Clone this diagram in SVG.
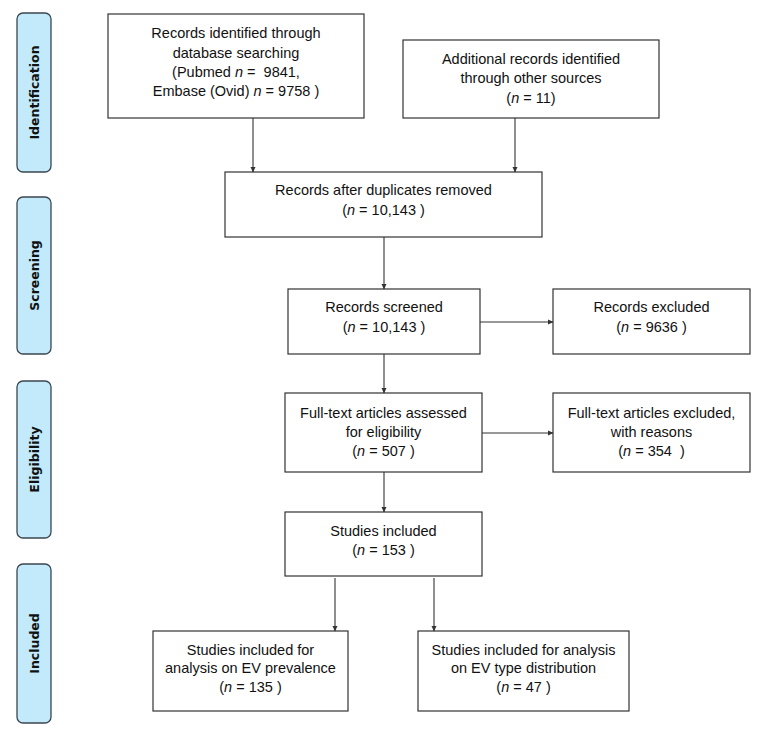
<svg xmlns="http://www.w3.org/2000/svg" width="761" height="735" viewBox="0 0 761 735">
<defs>
<style>
.box{fill:#fff;stroke:#333;stroke-width:1.2}
.side{fill:#c2eafb;stroke:#3b4650;stroke-width:1.3}
.t{font-family:"Liberation Sans",Arial,sans-serif;font-size:14.5px;fill:#111;text-anchor:middle}
.s{font-family:"DejaVu Sans",Verdana,sans-serif;font-size:12.5px;font-weight:bold;fill:#111;text-anchor:middle}
.c{stroke:#333;stroke-width:1.1;fill:none;marker-end:url(#ah)}
.i{font-style:italic}
</style>
<marker id="ah" markerWidth="6" markerHeight="6" refX="5" refY="3" orient="auto" markerUnits="userSpaceOnUse">
<path d="M0,0.5 L5.5,3 L0,5.5 Z" fill="#333"/>
</marker>
</defs>
<rect width="761" height="735" fill="#fff"/>
<g id="side-identification"><rect class="side" x="17" y="13" width="34" height="159" rx="6"/><text class="s" transform="translate(38.5,92.5) rotate(-90)">Identification</text></g>
<g id="side-screening"><rect class="side" x="17" y="197" width="34" height="157" rx="6"/><text class="s" transform="translate(38.5,275.5) rotate(-90)">Screening</text></g>
<g id="side-eligibility"><rect class="side" x="17" y="381" width="34" height="157" rx="6"/><text class="s" transform="translate(38.5,459.5) rotate(-90)">Eligibility</text></g>
<g id="side-included"><rect class="side" x="17" y="564" width="34" height="159" rx="6"/><text class="s" transform="translate(38.5,643.5) rotate(-90)">Included</text></g>

<g id="n1"><rect class="box" x="108" y="14" width="256" height="104"/>
<text class="t" x="236" y="38">Records identified through</text>
<text class="t" x="236" y="58">database searching</text>
<text class="t" x="236" y="77">(Pubmed <tspan class="i">n</tspan> = &#160;9841,</text>
<text class="t" x="236" y="96">Embase (Ovid) <tspan class="i">n</tspan> = 9758 )</text></g>

<g id="n2"><rect class="box" x="403" y="40" width="256" height="78"/>
<text class="t" x="531" y="64">Additional records identified</text>
<text class="t" x="531" y="83">through other sources</text>
<text class="t" x="531" y="103">(<tspan class="i">n</tspan> = 11)</text></g>

<g id="n3"><rect class="box" x="225" y="172" width="317" height="65"/>
<text class="t" x="383.5" y="195">Records after duplicates removed</text>
<text class="t" x="383.5" y="215">(<tspan class="i">n</tspan> = 10,143 )</text></g>

<g id="n4"><rect class="box" x="288" y="289" width="192" height="65"/>
<text class="t" x="384" y="312">Records screened</text>
<text class="t" x="384" y="332">(<tspan class="i">n</tspan> = 10,143 )</text></g>

<g id="n5"><rect class="box" x="553" y="289" width="197" height="65"/>
<text class="t" x="651.5" y="312">Records excluded</text>
<text class="t" x="651.5" y="332">(<tspan class="i">n</tspan> = 9636 )</text></g>

<g id="n6"><rect class="box" x="285" y="393" width="197" height="79"/>
<text class="t" x="383.5" y="418">Full-text articles assessed</text>
<text class="t" x="383.5" y="437">for eligibility</text>
<text class="t" x="383.5" y="456">(<tspan class="i">n</tspan> = 507 )</text></g>

<g id="n7"><rect class="box" x="553" y="393" width="197" height="79"/>
<text class="t" x="651.5" y="418">Full-text articles excluded,</text>
<text class="t" x="651.5" y="437">with reasons</text>
<text class="t" x="651.5" y="456">(<tspan class="i">n</tspan> = 354 &#160;)</text></g>

<g id="n8"><rect class="box" x="285" y="512" width="197" height="64"/>
<text class="t" x="383.5" y="536">Studies included</text>
<text class="t" x="383.5" y="555">(<tspan class="i">n</tspan> = 153 )</text></g>

<g id="n9"><rect class="box" x="153" y="631" width="195" height="80"/>
<text class="t" x="250.5" y="655">Studies included for</text>
<text class="t" x="250.5" y="673">analysis on EV prevalence</text>
<text class="t" x="250.5" y="692">(<tspan class="i">n</tspan> = 135 )</text></g>

<g id="n10"><rect class="box" x="418" y="631" width="211" height="80"/>
<text class="t" x="523.5" y="655">Studies included for analysis</text>
<text class="t" x="523.5" y="673">on EV type distribution</text>
<text class="t" x="523.5" y="692">(<tspan class="i">n</tspan> = 47 )</text></g>

<g id="connectors">
<path class="c" d="M253,118 V172"/>
<path class="c" d="M515,118 V172"/>
<path class="c" d="M384,237 V289"/>
<path class="c" d="M480,322 H553"/>
<path class="c" d="M384,354 V393"/>
<path class="c" d="M482,433 H553"/>
<path class="c" d="M384,472 V512"/>
<path class="c" d="M335,578 V631"/>
<path class="c" d="M434,578 V631"/>
</g>
</svg>
